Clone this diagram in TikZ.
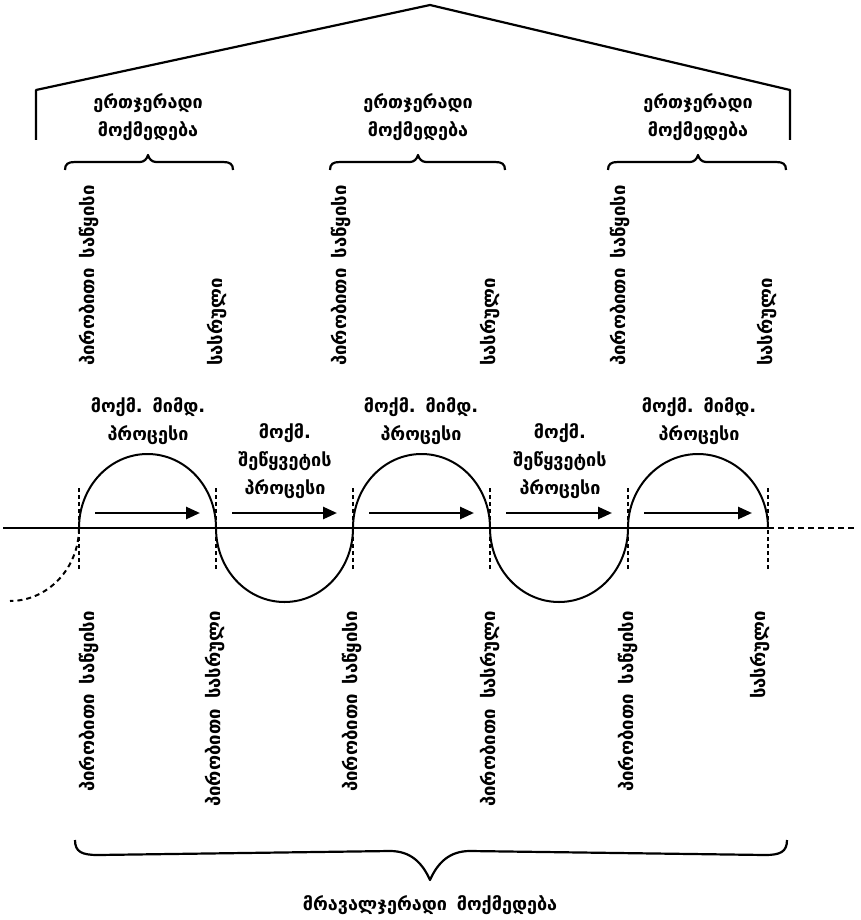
\documentclass[tikz,border=0pt]{standalone}
\usepackage{fontspec}
\setmainfont{DejaVu Sans}
\usetikzlibrary{arrows.meta,calc}
\tikzset{
  lbl/.style={font=\bfseries\fontsize{18}{28}\selectfont, align=center, inner sep=0pt},
  vlbl/.style={font=\bfseries\fontsize{18.5}{20}\selectfont, inner sep=0pt, rotate=90},
  curve/.style={line width=2pt},
  guide/.style={line width=1.5pt, dash pattern=on 4pt off 3pt},
  flow/.style={line width=2.6pt, -{Triangle[length=14pt,width=12pt]}},
  frame/.style={line width=2.2pt, line join=round},
}
\newcommand{\gap}{\hspace{0.55em}}
\begin{document}
\begin{tikzpicture}[x=1pt,y=-1pt]
\useasboundingbox (0,0) rectangle (861,920);
% crossing points
\coordinate (p0) at (79,528);
\coordinate (p1) at (216,528);
\coordinate (p2) at (353,528);
\coordinate (p3) at (490,528);
\coordinate (p4) at (628,528);
\coordinate (p5) at (768,528);
\coordinate (axL) at (3,528);
\coordinate (axR) at (856,528);
\coordinate (tail) at (10,601);
% axis
\draw[curve] (axL) -- (p5);
\draw[curve, dash pattern=on 6pt off 4pt] (p5) -- (axR);
% guides
\foreach \i in {0,...,5}{
  \draw[guide] ([yshift=-41pt]p\i) -- ([yshift=40pt]p\i);
}
% arches (upper)
\foreach \a/\b in {p0/p1,p2/p3,p4/p5}{
  \draw[curve] (\a) .. controls ($(\a)+(0,-41)$) and ($(\a)!0.5!(\b)+(-38,-74)$) .. ($(\a)!0.5!(\b)+(0,-74)$)
    .. controls ($(\a)!0.5!(\b)+(38,-74)$) and ($(\b)+(0,-41)$) .. (\b);
}
% arches (lower)
\foreach \a/\b in {p1/p2,p3/p4}{
  \draw[curve] (\a) .. controls ($(\a)+(0,41)$) and ($(\a)!0.5!(\b)+(-38,74)$) .. ($(\a)!0.5!(\b)+(0,74)$)
    .. controls ($(\a)!0.5!(\b)+(38,74)$) and ($(\b)+(0,41)$) .. (\b);
}
% left dashed tail
\draw[curve, dash pattern=on 5pt off 4pt] (p0) .. controls ($(p0)+(0,40)$) and ($(tail)+(38,0)$) .. (tail);
% arrows
\foreach \a/\b in {p0/p1,p1/p2,p2/p3,p3/p4,p4/p5}{
  \draw[flow] ($(\a)+(16,-15)$) -- ($(\b)+(-16,-15)$);
}
% process labels
\node[lbl] (m1) at (148,421) {მოქმ.\gap მიმდ.\\პროცესი};
\node[lbl] (m2) at (421,421) {მოქმ.\gap მიმდ.\\პროცესი};
\node[lbl] (m3) at (699,421) {მოქმ.\gap მიმდ.\\პროცესი};
\node[lbl] (s1) at (285,461) {მოქმ.\\შეწყვეტის\\პროცესი};
\node[lbl] (s2) at (560,461) {მოქმ.\\შეწყვეტის\\პროცესი};
% top vertical labels
\node[vlbl, anchor=west] (t1) at (89,366) {პირობითი\gap საწყისი};
\node[vlbl, anchor=west] (t2) at (217,366) {სასრული};
\node[vlbl, anchor=west] (t3) at (341,366) {პირობითი\gap საწყისი};
\node[vlbl, anchor=west] (t4) at (490,366) {სასრული};
\node[vlbl, anchor=west] (t5) at (620,366) {პირობითი\gap საწყისი};
\node[vlbl, anchor=west] (t6) at (767,366) {სასრული};
% bottom vertical labels
\node[vlbl, anchor=east] (b1) at (89,611) {პირობითი\gap საწყისი};
\node[vlbl, anchor=east] (b2) at (215,611) {პირობითი\gap სასრული};
\node[vlbl, anchor=east] (b3) at (352,611) {პირობითი\gap საწყისი};
\node[vlbl, anchor=east] (b4) at (490,611) {პირობითი\gap სასრული};
\node[vlbl, anchor=east] (b5) at (628,611) {პირობითი\gap საწყისი};
\node[vlbl, anchor=east] (b6) at (760,611) {სასრული};
% top single-action labels
\node[lbl] (e1) at (148,117) {ერთჯერადი\\მოქმედება};
\node[lbl] (e2) at (418,117) {ერთჯერადი\\მოქმედება};
\node[lbl] (e3) at (698,117) {ერთჯერადი\\მოქმედება};
% roof
\coordinate (rL) at (36,140);
\coordinate (rLt) at (36,90);
\coordinate (apex) at (430,5);
\coordinate (rRt) at (790,90);
\coordinate (rR) at (790,140);
\draw[frame] (rL) -- (rLt) -- (apex) -- (rRt) -- (rR);
% top braces
\foreach \l/\c/\r in {65/148/233,330/418/505,608/698/786}{
  \draw[frame] (\l,170) .. controls (\l,164) and (\l+3,162) .. (\l+10,162) -- (\c-8,162)
     .. controls (\c-4,162) and (\c-1,159) .. (\c,155) .. controls (\c+1,159) and (\c+4,162) .. (\c+8,162)
     -- (\r-10,162) .. controls (\r-3,162) and (\r,164) .. (\r,170);
}
% bottom brace
\draw[frame] (75,840) .. controls (75,852) and (82,855) .. (98,855) -- (390,851)
  .. controls (410,851) and (422,862) .. (430,880) .. controls (438,862) and (450,851) .. (470,851)
  -- (765,855) .. controls (780,855) and (787,852) .. (787,840);
\node[lbl] (multi) at (430,905) {მრავალჯერადი\gap მოქმედება};
\end{tikzpicture}
\end{document}
